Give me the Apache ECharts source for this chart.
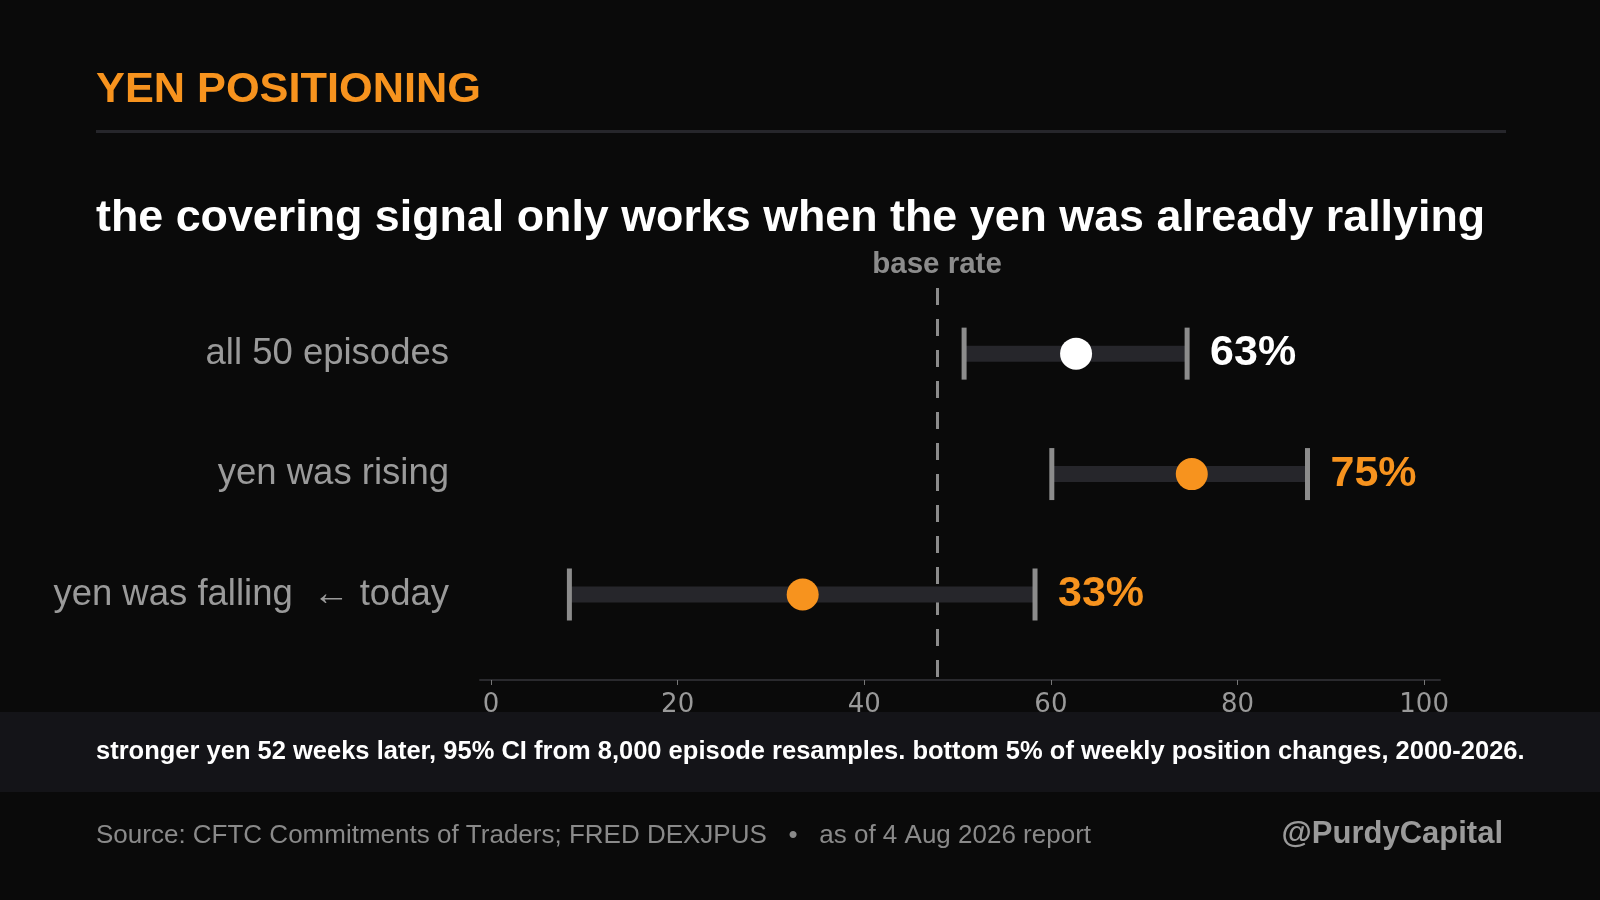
<!DOCTYPE html>
<html>
<head>
<meta charset="utf-8">
<title>Yen positioning</title>
<script src="https://cdn.jsdelivr.net/npm/echarts@6/dist/echarts.min.js"></script>
<style>
  html, body { margin: 0; padding: 0; background: #0a0a0a; }
  #chart { width: 1600px; height: 900px; }
</style>
</head>
<body>
<div id="chart"></div>
<script>
// data
const categories = ["all 50 episodes", "yen was rising", "yen was falling  \u2190 today"];
const estimates = [62.7, 75.1, 33.4];
const lowerCI = [50.7, 60.1, 8.4];
const upperCI = [74.6, 87.5, 58.3];
const baseRate = 47.8;
const xTicks = [0, 20, 40, 60, 80, 100];

const ORANGE = "#f7931e";
const FONT = "Liberation Sans, Arial, sans-serif";
const rowColors = ["#ffffff", ORANGE, ORANGE];

const rows = categories.map((name, i) => [lowerCI[i], upperCI[i], estimates[i], i]);

function renderRow(params, api) {
  const idx = api.value(3);
  const lo = api.coord([api.value(0), idx]);
  const hi = api.coord([api.value(1), idx]);
  const mid = api.coord([api.value(2), idx]);
  const y = lo[1];
  const color = rowColors[idx];
  return {
    type: "group",
    children: [
      {
        type: "line",
        shape: { x1: lo[0], y1: y, x2: hi[0], y2: y },
        style: { stroke: "#26262b", lineWidth: 16 }
      },
      {
        type: "line",
        shape: { x1: lo[0], y1: y - 26, x2: lo[0], y2: y + 26 },
        style: { stroke: "#8c8c8c", lineWidth: 5 }
      },
      {
        type: "line",
        shape: { x1: hi[0], y1: y - 26, x2: hi[0], y2: y + 26 },
        style: { stroke: "#8c8c8c", lineWidth: 5 }
      },
      {
        type: "circle",
        shape: { cx: mid[0], cy: y, r: 16 },
        style: { fill: color }
      },
      {
        type: "text",
        x: hi[0] + 23,
        y: y,
        style: {
          text: Math.round(api.value(2)) + "%",
          fill: color,
          font: "bold 43px " + FONT,
          textAlign: "left",
          textVerticalAlign: "middle"
        }
      },
      {
        type: "text",
        x: params.coordSys.x - 31,
        y: y,
        style: {
          text: categories[idx],
          fill: "#9a9a9a",
          font: "36.5px " + FONT,
          textAlign: "right",
          textVerticalAlign: "middle"
        }
      }
    ]
  };
}

const chart = echarts.init(document.getElementById("chart"));

chart.setOption({
  backgroundColor: "#0a0a0a",
  animation: false,
  grid: { left: 480, right: 160, top: 288, bottom: 220 },
  xAxis: {
    type: "value",
    min: -1.18,
    max: 101.7,
    splitLine: { show: false },
    axisLine: { show: true, onZero: false, lineStyle: { color: "#2a2a2e", width: 2 } },
    axisTick: { show: true, length: 5, customValues: xTicks, lineStyle: { color: "#777", width: 1 } },
    axisLabel: {
      customValues: xTicks,
      color: "#999",
      fontSize: 26,
      fontFamily: "DejaVu Sans",
      margin: 12
    }
  },
  yAxis: {
    type: "value",
    inverse: true,
    min: -0.545,
    max: 2.71,
    show: false
  },
  series: [
    {
      type: "custom",
      renderItem: renderRow,
      encode: { x: [0, 1, 2], y: 3 },
      data: rows,
      z: 3,
      markLine: {
        silent: true,
        symbol: "none",
        z: 1,
        lineStyle: { color: "#8c8c8c", width: 3, type: [17, 14] },
        label: {
          show: true,
          position: "start",
          distance: 8,
          formatter: "base rate",
          color: "#8c8c8c",
          fontSize: 29.5,
          fontWeight: "bold",
          fontFamily: FONT
        },
        data: [{ xAxis: baseRate }]
      }
    }
  ],
  graphic: [
    {
      type: "text",
      left: 96,
      top: 69,
      style: { text: "YEN POSITIONING", fill: ORANGE, font: "bold 43.3px " + FONT }
    },
    {
      type: "rect",
      shape: { x: 96, y: 130, width: 1410, height: 3 },
      style: { fill: "#26262b" }
    },
    {
      type: "text",
      x: 96,
      y: 219,
      style: {
        text: "the covering signal only works when the yen was already rallying",
        fill: "#ffffff",
        font: "bold 44.8px " + FONT,
        textVerticalAlign: "middle"
      }
    },
    {
      type: "rect",
      shape: { x: 0, y: 712, width: 1600, height: 80 },
      style: { fill: "#141418" },
      z: 10
    },
    {
      type: "text",
      x: 96,
      y: 752,
      z: 11,
      style: {
        text: "stronger yen 52 weeks later, 95% CI from 8,000 episode resamples. bottom 5% of weekly position changes, 2000-2026.",
        fill: "#ffffff",
        font: "bold 25.5px " + FONT,
        textVerticalAlign: "middle"
      }
    },
    {
      type: "text",
      x: 96,
      y: 836,
      style: {
        text: "Source: CFTC Commitments of Traders; FRED DEXJPUS   \u2022   as of 4 Aug 2026 report",
        fill: "#8a8a8a",
        font: "26px " + FONT,
        textVerticalAlign: "middle"
      }
    },
    {
      type: "text",
      x: 1503,
      y: 834,
      style: {
        text: "@PurdyCapital",
        fill: "#9a9a9a",
        font: "bold 31px " + FONT,
        textAlign: "right",
        textVerticalAlign: "middle"
      }
    }
  ]
});

window.addEventListener("resize", () => chart.resize());
</script>
</body>
</html>
